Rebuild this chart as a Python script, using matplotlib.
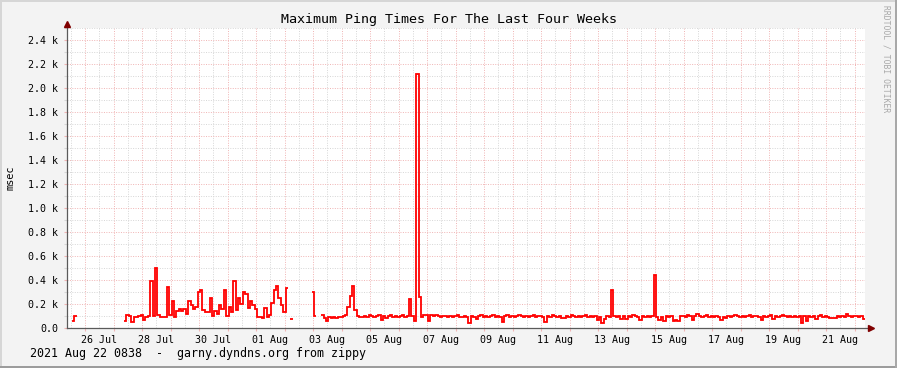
import datetime as dt
import numpy as np
import matplotlib
matplotlib.use("Agg")
import matplotlib.pyplot as plt
import matplotlib.dates as mdates
from matplotlib.ticker import MultipleLocator, FuncFormatter, NullFormatter
from matplotlib.patches import Rectangle

# time window: last four weeks, 2 hour steps
start = dt.datetime(2021, 7, 25, 8, 38)
end = dt.datetime(2021, 8, 22, 8, 38)
step_hours = 2

nan = np.nan
# maximum ping (msec) per 2 hour step
ping_max = [
    nan, nan, 58, 100] + [nan] * 20 + [
    55, 105, 100, 50, 95, 90, 100, 105, 65, 90,
    100, 394, 100, 497, 105, 95, 90, 90, 339, 105,
    225, 94, 144, 160, 140, 160, 120, 225, 190, 160,
    175, 297, 314, 150, 131, 130, 253, 103, 144, 120,
    189, 160, 317, 100, 172, 130, 392, 150, 250, 200,
    297, 281, 164, 225, 192, 160, 94, 90, 86, 164,
    94, 110, 206, 320, 347, 250, 192, 136, 331, nan,
    72] + [nan] * 8 + [
    297, 97, nan, nan, 105, 80, 60, 90, 80, 95,
    85, 90, 95, 100, 110, 178, 269, 352, 150, 100,
    95, 90,
    100, 95, 105, 100, 90, 100, 105, 70, 100, 85,
    100, 105, 95, 100, 90, 100, 105, 95, 100,
    245, 100, 55, 2120, 260, 95, 105, 105, 60,
    105, 100, 105, 100, 95, 100, 100, 90, 100, 95, 100, 105, 95, 90, 100,
    90, 45,
    100, 95, 75, 100, 105, 95, 100, 90, 100, 105, 95, 100, 90,
    50,
    100, 105, 95, 100, 90, 100, 105, 100, 95, 100, 90, 100, 105, 95, 100, 100, 90,
    50,
    100, 95, 105, 100, 95, 100,
    80, 80,
    100, 95, 105, 100, 95, 100, 90, 100, 105, 95, 100, 90, 100, 70, 95,
    45, 75, 100, 95, 317,
    100, 95, 100, 75, 100, 75, 100, 95, 105, 100, 95, 70, 100, 95, 100, 90, 100,
    445, 90, 65, 95, 60, 100, 95, 100, 55, 70, 60,
    100, 100, 95, 105, 100, 70, 100, 115,
    100, 95, 100, 105, 95, 100, 90, 100, 95,
    70, 95, 80,
    100, 95, 100, 105, 100, 95, 100, 90, 100, 105, 95, 100, 100, 95,
    65, 100, 95, 100, 105, 75,
    100, 95, 100, 105, 100, 95, 100, 90, 100, 95, 100,
    40, 100, 55, 100, 95, 100, 75,
    100, 105, 95, 100, 95, 80, 85, 80,
    100, 95, 100, 95, 115,
    100, 95, 100, 100, 95, 100, 75,
]

y_max = 2500
title = "Maximum Ping Times For The Last Four Weeks"
footer = "2021 Aug 22 0838  -  garny.dyndns.org from zippy"
label_first_day = dt.datetime(2021, 7, 26)

n_steps = int((end - start).total_seconds() // 3600 // step_hours)
edges = [start + dt.timedelta(hours=step_hours * k) for k in range(n_steps + 1)]
edges_num = mdates.date2num(edges)
values = np.array(ping_max[:n_steps], dtype=float)

plt.rcParams["font.family"] = ["DejaVu Sans Mono"]

W, H = 897, 368
fig = plt.figure(figsize=(W / 100, H / 100), dpi=100, facecolor="#f3f3f3")
ax = fig.add_axes([67 / W, 1 - 328 / H, 798 / W, 300 / H])
ax.set_facecolor("white")

ax.stairs(values, edges_num, baseline=None, color="#ff0000", linewidth=1.3)

ax.set_xlim(edges_num[0], edges_num[-1])
ax.set_ylim(0, y_max)

# y axis
ax.yaxis.set_major_locator(MultipleLocator(200))
ax.yaxis.set_minor_locator(MultipleLocator(100))
ax.yaxis.set_major_formatter(FuncFormatter(
    lambda v, p: "0.0" if v == 0 else "%.1f k" % (v / 1000)))

# x axis: red grid at midnight, grey grid at noon, labels every 2 days at noon
ax.xaxis.set_major_locator(mdates.DayLocator())
ax.xaxis.set_major_formatter(NullFormatter())
ax.xaxis.set_minor_locator(mdates.HourLocator(byhour=12))


def day_label(v, p):
    d = mdates.num2date(v).replace(tzinfo=None)
    if (d - label_first_day).days % 2 == 0:
        return d.strftime("%d %b")
    return ""


ax.xaxis.set_minor_formatter(FuncFormatter(day_label))

mgrid = "#f0b4b4"
grid = "#d6d6d6"
ax.grid(which="major", color=mgrid, linestyle=(0, (1, 1.5)), linewidth=0.7)
ax.grid(which="minor", color=grid, linestyle=(0, (1, 1.5)), linewidth=0.7)
ax.set_axisbelow(True)

ax.tick_params(axis="y", which="major", length=2.5, width=0.8, color=mgrid,
               labelsize=7.2, pad=4)
ax.tick_params(axis="y", which="minor", length=2.5, width=0.8, color=grid)
ax.tick_params(axis="x", which="major", length=2.5, width=0.8, color=mgrid,
               labelbottom=False)
ax.tick_params(axis="x", which="minor", length=0, labelsize=7.2, pad=5)

for s in ax.spines.values():
    s.set_visible(False)

# axis lines with arrows
axis_col = "#5a5a5a"
ax.plot([0, 0], [0, 1.015], transform=ax.transAxes, clip_on=False,
        color=axis_col, lw=0.9, zorder=5)
ax.plot([0, 1.004], [0, 0], transform=ax.transAxes, clip_on=False,
        color=axis_col, lw=0.9, zorder=5)
ax.plot([0], [1.013], transform=ax.transAxes, clip_on=False, marker="^",
        markersize=4.2, color="#800000", zorder=6)
ax.plot([1.008], [0], transform=ax.transAxes, clip_on=False, marker=">",
        markersize=4.2, color="#800000", zorder=6)

# texts
fig.text(0.5, 1 - 19 / H, title, ha="center", va="center", fontsize=9.6)
fig.text(30 / W, 1 - 354 / H, footer, ha="left", va="center", fontsize=8.4)
fig.text(11 / W, 1 - 178 / H, "msec", ha="center", va="center",
         rotation=90, fontsize=7.4)
fig.text(886 / W, 1 - 5 / H, "RRDTOOL / TOBI OETIKER", ha="center", va="top",
         rotation=270, fontsize=5.8, color="#a8a8a8")

# frame shading
fig.add_artist(Rectangle((0, 1 - 2 / H), 1, 2 / H, transform=fig.transFigure,
                         color="#d6d6d6", lw=0))
fig.add_artist(Rectangle((0, 0), 2 / W, 1, transform=fig.transFigure,
                         color="#d6d6d6", lw=0))
fig.add_artist(Rectangle((0, 0), 1, 2 / H, transform=fig.transFigure,
                         color="#9c9c9c", lw=0))
fig.add_artist(Rectangle((1 - 2 / W, 0), 2 / W, 1, transform=fig.transFigure,
                         color="#a8a8a8", lw=0))

fig.savefig("out.png", dpi=100, facecolor=fig.get_facecolor())
